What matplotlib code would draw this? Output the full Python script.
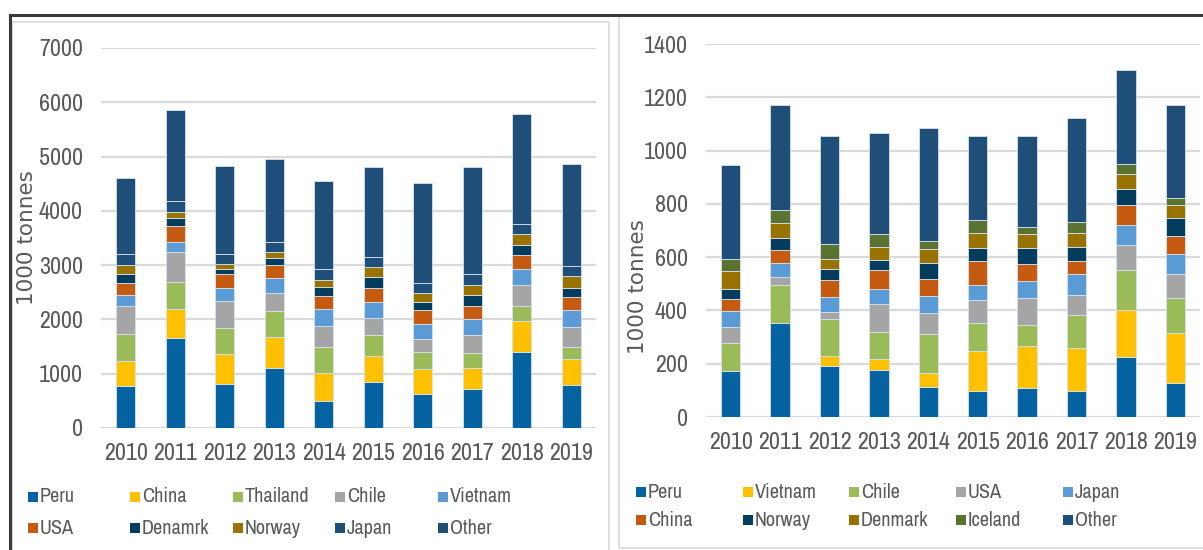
import matplotlib
matplotlib.use('Agg')
import matplotlib.pyplot as plt
from matplotlib import font_manager
from matplotlib.patches import Rectangle
from matplotlib.lines import Line2D
import numpy as np

# the original uses a narrow sans; take one if the box has it
narrow = [f.name for f in font_manager.fontManager.ttflist
          if 'Narrow' in f.name or 'Condensed' in f.name]
if narrow:
    plt.rcParams['font.family'] = [narrow[0], 'DejaVu Sans']
    FS, LFS = 17.3, 14.6
else:
    plt.rcParams['font.family'] = ['Liberation Sans', 'DejaVu Sans']
    FS, LFS = 13.6, 11.8

years = ['2010', '2011', '2012', '2013', '2014', '2015', '2016', '2017', '2018', '2019']

# left chart (1000 tonnes)
l_peru     = [780, 1660, 815, 1105, 505, 847, 626, 718, 1393, 792]
l_china    = [460, 535, 545, 565, 510, 479, 461, 387, 571, 479]
l_thailand = [500, 500, 485, 485, 480, 379, 306, 276, 276, 226]
l_chile    = [515, 550, 490, 330, 390, 321, 246, 332, 386, 363]
l_vietnam  = [200, 185, 240, 275, 310, 287, 276, 294, 302, 306]
l_usa      = [220, 290, 260, 235, 230, 258, 251, 245, 251, 247]
l_denmark  = [170, 155, 90, 145, 165, 202, 160, 203, 197, 165]
l_norway   = [165, 110, 90, 100, 140, 185, 153, 184, 197, 227]
l_japan    = [200, 195, 185, 185, 195, 191, 191, 197, 189, 184]
l_other    = [1400, 1670, 1620, 1535, 1625, 1657, 1835, 1976, 2013, 1878]
l_labels = ['Peru', 'China', 'Thailand', 'Chile', 'Vietnam', 'USA', 'Denamrk', 'Norway', 'Japan', 'Other']

# right chart (1000 tonnes)
r_peru    = [172, 351, 193, 176, 112, 96, 110, 99, 224, 126]
r_vietnam = [0, 0, 35, 42, 54, 151, 156, 161, 176, 189]
r_chile   = [104, 143, 141, 102, 144, 107, 81, 121, 150, 131]
r_usa     = [63, 31, 26, 105, 81, 84, 100, 76, 95, 92]
r_japan   = [58, 54, 55, 56, 62, 59, 65, 78, 75, 75]
r_china   = [47, 47, 66, 69, 66, 87, 64, 50, 77, 66]
r_norway  = [37, 44, 41, 41, 58, 51, 59, 52, 60, 69]
r_denmark = [68, 59, 37, 46, 52, 56, 53, 54, 56, 47]
r_iceland = [45, 47, 54, 48, 31, 48, 26, 40, 35, 28]
r_other   = [351, 394, 408, 382, 426, 317, 340, 392, 353, 347]
r_labels = ['Peru', 'Vietnam', 'Chile', 'USA', 'Japan', 'China', 'Norway', 'Denmark', 'Iceland', 'Other']

BLUE, YEL, GRN, GRY, LBL = '#0563A1', '#FFC000', '#9BBB59', '#A5A5A5', '#5B9BD5'
ORG, NAVY, BRN, DBL, OLV = '#C55A11', '#043C5E', '#997300', '#1F4E79', '#5B7330'
l_colors = [BLUE, YEL, GRN, GRY, LBL, ORG, NAVY, BRN, DBL, DBL]
r_colors = [BLUE, YEL, GRN, GRY, LBL, ORG, NAVY, BRN, OLV, DBL]

TXT = '#595959'

fig = plt.figure(figsize=(12.03, 5.5), dpi=100)
W, H = 1203.0, 550.0


def px(x0, y0, x1, y1):
    # pixel box -> figure fraction rect
    return [x0 / W, 1 - y1 / H, (x1 - x0) / W, (y1 - y0) / H]


def stacked(ax, series, colors, ymax, step):
    x = np.arange(len(years))
    bottom = np.zeros(len(years))
    for vals, c in zip(series, colors):
        v = np.array(vals, dtype=float)
        ax.bar(x, v, 0.39, bottom=bottom, color=c, edgecolor='#d6e2ee', linewidth=0.6, zorder=3)
        bottom += v
    ax.set_xlim(-0.5, len(years) - 0.5)
    ax.set_ylim(0, ymax)
    ax.set_yticks(np.arange(0, ymax + 1, step))
    ax.set_xticks(x)
    ax.set_xticklabels(years)
    ax.yaxis.grid(True, color='#d9d9d9', linewidth=1.6, zorder=0)
    ax.set_axisbelow(True)
    for s in ax.spines.values():
        s.set_visible(False)
    ax.tick_params(length=0, labelsize=FS, labelcolor=TXT)
    ax.tick_params(axis='y', pad=13)
    ax.tick_params(axis='x', pad=11)
    # axis title is in a wider face than the ticks
    ax.set_ylabel('1000 tonnes', fontsize=15.5, color=TXT, family='DejaVu Sans')


ax1 = fig.add_axes(px(101, 48, 596, 428))
stacked(ax1, [l_peru, l_china, l_thailand, l_chile, l_vietnam, l_usa,
              l_denmark, l_norway, l_japan, l_other], l_colors, 7000, 1000)
ax1.yaxis.set_label_coords(-0.129, 0.5)

ax2 = fig.add_axes(px(706, 44, 1200, 417))
stacked(ax2, [r_peru, r_vietnam, r_chile, r_usa, r_japan, r_china,
              r_norway, r_denmark, r_iceland, r_other], r_colors, 1400, 200)
ax2.yaxis.set_label_coords(-0.117, 0.35)


def legend(labels, colors, xs, ys):
    for i, (lab, c) in enumerate(zip(labels, colors)):
        x = xs[i % 5]
        y = ys[i // 5]
        fig.patches.append(Rectangle(((x - 5) / W, 1 - (y + 5) / H), 10 / W, 10 / H,
                                     transform=fig.transFigure, facecolor=c, edgecolor='none'))
        fig.text((x + 7) / W, 1 - y / H, lab, fontsize=LFS, color=TXT, va='center', ha='left')


legend(l_labels, l_colors, [33, 135, 238, 340, 443], [497, 528])
legend(r_labels, r_colors, [641, 748, 854, 961, 1068], [492, 520])

# panel frames
fig.patches.append(Rectangle((12 / W, -0.01), 597 / W, 1 - 22 / H + 0.01, transform=fig.transFigure,
                             facecolor='none', edgecolor='#d9d9d9', linewidth=1.2))
fig.patches.append(Rectangle((619 / W, 1 - 548 / H), 600 / W, (548 - 16) / H, transform=fig.transFigure,
                             facecolor='none', edgecolor='#d9d9d9', linewidth=1.2))
fig.lines.append(Line2D([10 / W, 1.0], [1 - 15 / H, 1 - 15 / H], transform=fig.transFigure,
                        color='#3a3a3a', linewidth=2.2))
fig.lines.append(Line2D([10 / W, 10 / W], [0, 1 - 15 / H], transform=fig.transFigure,
                        color='#3a3a3a', linewidth=2.2))

fig.savefig('out.png', dpi=100)
